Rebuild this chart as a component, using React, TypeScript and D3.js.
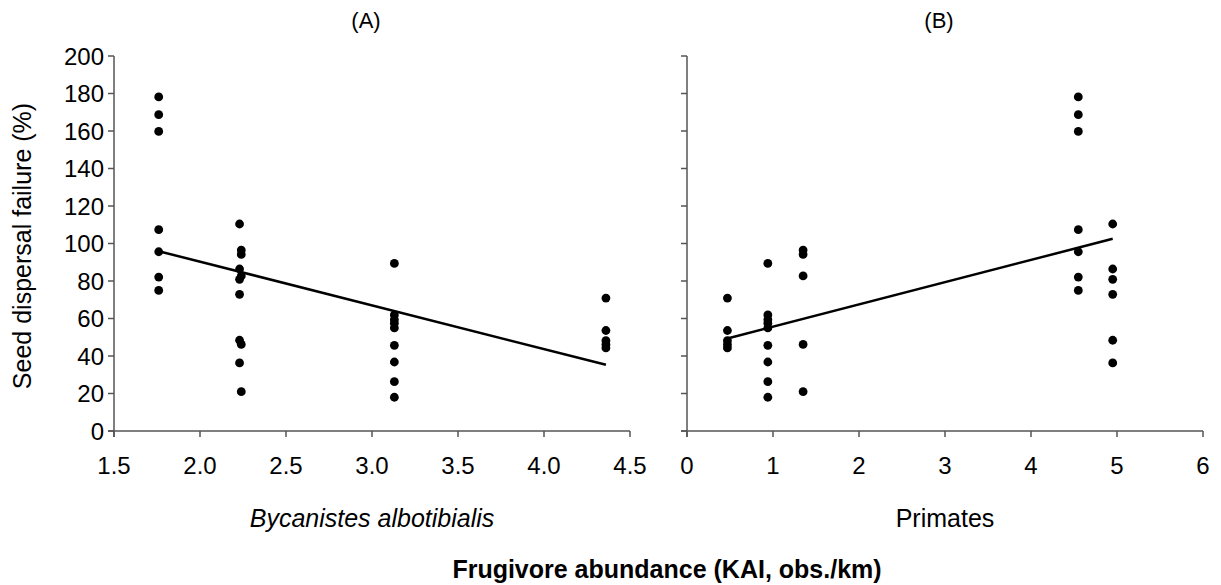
import React from "react";
import * as d3 from "d3";

// Each site: Bycanistes abundance, primate abundance, seed dispersal failure values
const siteBycanistes = [1.76, 2.24, 2.23, 3.13, 4.36];
const sitePrimates = [4.55, 1.35, 4.95, 0.94, 0.47];
const siteFailure: number[][] = [
  [178.2, 168.7, 159.8, 107.4, 95.6, 82.1, 75.0],
  [96.5, 94.2, 82.7, 46.2, 21.0],
  [110.4, 86.4, 80.9, 72.9, 48.4, 36.3],
  [89.4, 61.9, 59.4, 57.5, 55.0, 45.7, 36.8, 26.3, 18.0],
  [70.9, 53.6, 48.2, 46.1, 44.3],
];

// Fitted regression lines: [intercept, slope], x-range
const regA = [136.9, -23.3];
const regARange = [1.76, 4.36];
const regB = [43.8, 11.86];
const regBRange = [0.47, 4.95];

const yTicks = [0, 20, 40, 60, 80, 100, 120, 140, 160, 180, 200];
const xTicksA = [1.5, 2.0, 2.5, 3.0, 3.5, 4.0, 4.5];
const xTicksB = [0, 1, 2, 3, 4, 5, 6];

const W = 1221;
const H = 585;
const top = 56;
const bottom = 431;
const font = "Liberation Sans, Arial, sans-serif";
const axisColor = "#555";

type PanelProps = {
  xDomain: [number, number];
  xRange: [number, number];
  xTicks: number[];
  xFmt: (v: number) => string;
  xs: number[];
  reg: number[];
  regRange: number[];
  showYLabels: boolean;
  title: string;
  xLabel: string;
  italic: boolean;
};

function Panel(p: PanelProps) {
  const x = d3.scaleLinear().domain(p.xDomain).range(p.xRange);
  const y = d3.scaleLinear().domain([0, 200]).range([bottom, top]);
  const x0 = p.xRange[0];
  const line = d3
    .line<number>()
    .x((d) => x(d))
    .y((d) => y(p.reg[0] + p.reg[1] * d));
  const pts: { x: number; y: number }[] = [];
  siteFailure.forEach((vals, i) => vals.forEach((v) => pts.push({ x: p.xs[i], y: v })));
  const cx = (p.xRange[0] + p.xRange[1]) / 2;
  return (
    <g>
      <text x={cx - 6} y={28} fontSize={22} textAnchor="middle" fontFamily={font}>
        {p.title}
      </text>
      {/* y axis */}
      <line x1={x0} x2={x0} y1={top} y2={bottom + 6} stroke={axisColor} strokeWidth={1.5} />
      {yTicks.map((t) => (
        <g key={t}>
          <line x1={x0 - 6} x2={x0} y1={y(t)} y2={y(t)} stroke={axisColor} strokeWidth={1.5} />
          {p.showYLabels && (
            <text x={x0 - 10} y={y(t)} dy="0.36em" fontSize={24} textAnchor="end" fontFamily={font}>
              {t}
            </text>
          )}
        </g>
      ))}
      {/* x axis */}
      <line x1={x0 - 6} x2={p.xRange[1]} y1={bottom} y2={bottom} stroke={axisColor} strokeWidth={1.5} />
      {p.xTicks.map((t) => (
        <g key={t}>
          <line x1={x(t)} x2={x(t)} y1={bottom} y2={bottom + 6} stroke={axisColor} strokeWidth={1.5} />
          <text x={x(t)} y={474} fontSize={24} textAnchor="middle" fontFamily={font}>
            {p.xFmt(t)}
          </text>
        </g>
      ))}
      <text
        x={cx}
        y={527}
        fontSize={25}
        textAnchor="middle"
        fontFamily={font}
        fontStyle={p.italic ? "italic" : "normal"}
      >
        {p.xLabel}
      </text>
      <path d={line(p.regRange) || ""} fill="none" stroke="#000" strokeWidth={2.5} />
      {pts.map((d, i) => (
        <circle key={i} cx={x(d.x)} cy={y(d.y)} r={4.4} fill="#000" />
      ))}
    </g>
  );
}

export default function App() {
  return (
    <svg
      width={W}
      height={H}
      style={{ position: "absolute", left: 0, top: 0, background: "#fff" }}
    >
      <rect width={W} height={H} fill="#fff" />
      <Panel
        xDomain={[1.5, 4.5]}
        xRange={[114, 630]}
        xTicks={xTicksA}
        xFmt={(v) => v.toFixed(1)}
        xs={siteBycanistes}
        reg={regA}
        regRange={regARange}
        showYLabels={true}
        title="(A)"
        xLabel="Bycanistes albotibialis"
        italic={true}
      />
      <Panel
        xDomain={[0, 6]}
        xRange={[687, 1203]}
        xTicks={xTicksB}
        xFmt={(v) => String(v)}
        xs={sitePrimates}
        reg={regB}
        regRange={regBRange}
        showYLabels={false}
        title="(B)"
        xLabel="Primates"
        italic={false}
      />
      <text
        transform={`translate(31, 246) rotate(-90)`}
        fontSize={25}
        textAnchor="middle"
        fontFamily={font}
      >
        Seed dispersal failure (%)
      </text>
      <text x={667} y={578} fontSize={25} fontWeight="bold" textAnchor="middle" fontFamily={font}>
        Frugivore abundance (KAI, obs./km)
      </text>
    </svg>
  );
}
